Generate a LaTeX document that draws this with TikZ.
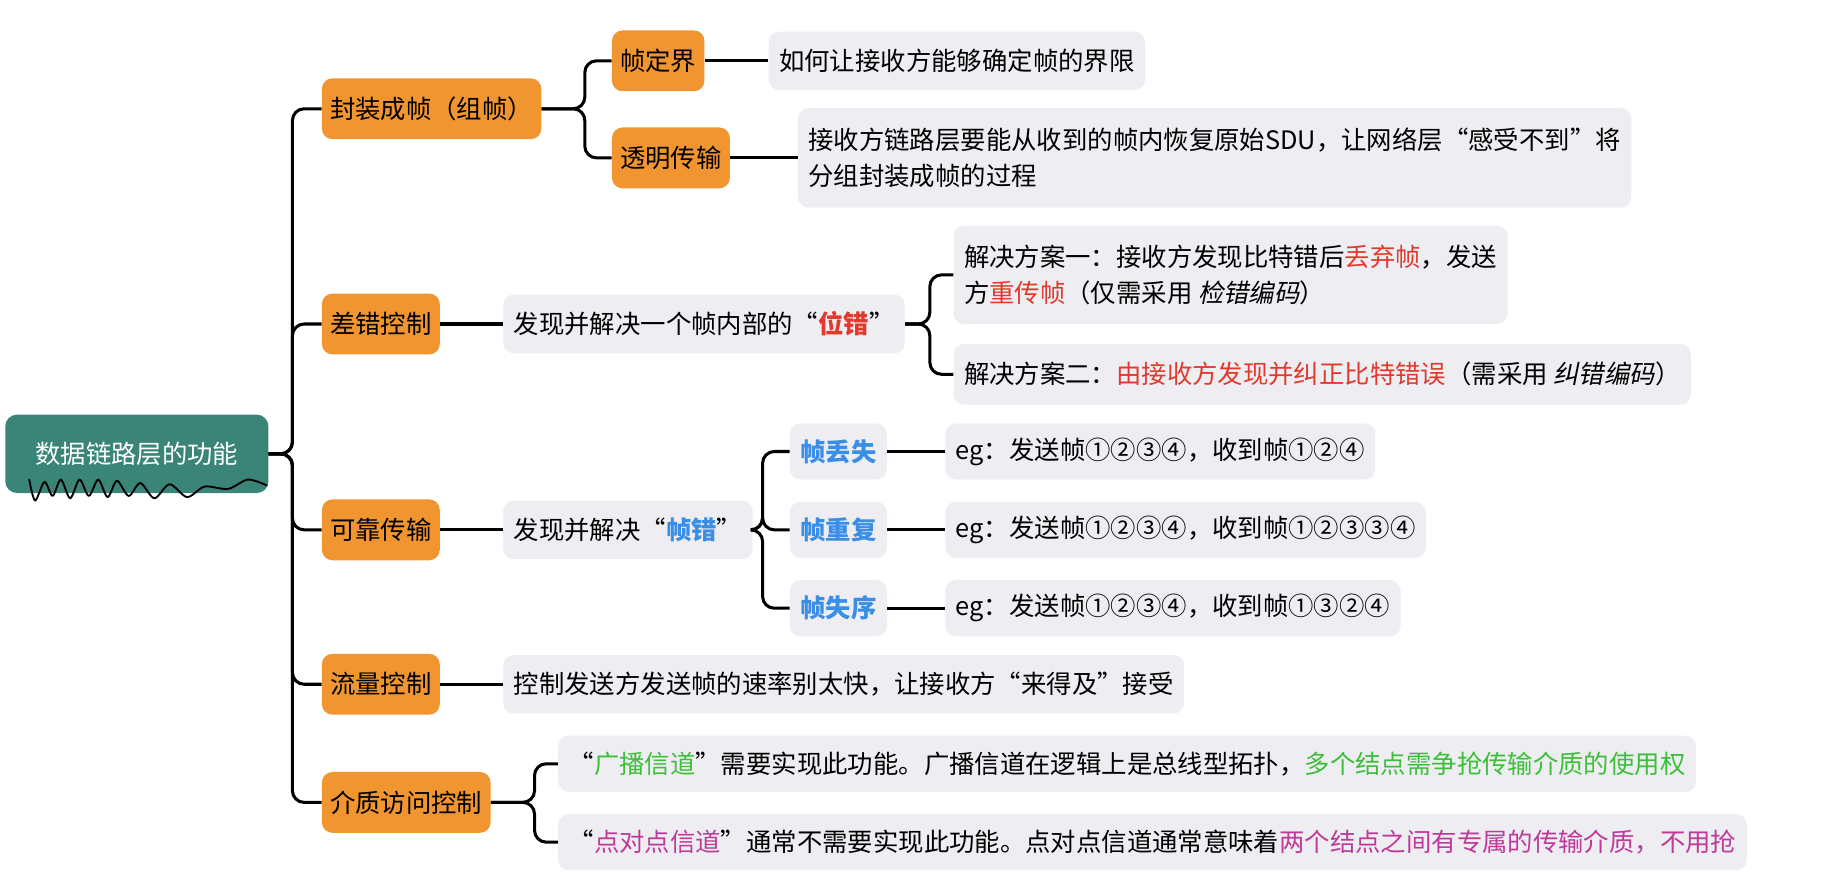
\documentclass[tikz,border=0pt]{standalone}
\usepackage{fontspec}
\setmainfont{Noto Sans CJK SC}
\newfontfamily\cjkit[FakeSlant=0.2]{Noto Sans CJK SC}
\definecolor{org}{HTML}{F0952F}
\definecolor{teal1}{HTML}{3A8577}
\definecolor{gbox}{HTML}{EEEEF2}
\definecolor{blu}{HTML}{3A8EE6}
\definecolor{rd}{HTML}{E03A2E}
\definecolor{grn}{HTML}{3DBF3A}
\definecolor{mag}{HTML}{C0399A}
\begin{document}
\begin{tikzpicture}[x=1pt,y=-1pt,
  every node/.style={font=\fontsize{21.7}{31}\selectfont},
  l1/.style={fill=org,rounded corners=9pt,inner xsep=7pt,inner ysep=0pt,minimum height=52pt,anchor=west},
  gb/.style={fill=gbox,rounded corners=9pt,inner xsep=9pt,inner ysep=0pt,minimum height=50pt,anchor=west,align=left},
  conn/.style={line width=2.6pt,rounded corners=10pt}]
\useasboundingbox (0,0) rectangle (1568,759);
\node[fill=teal1,rounded corners=10pt,minimum width=225pt,minimum height=67pt,text=white] (root) at (117,388) {数据链路层的功能};
\draw[line width=1.6pt,line cap=round,line join=round] plot[smooth] coordinates {(25,410)(30,428)(38,412)(45,424)(52,410)(60,426)(68,410)(76,424)(84,410)(92,425)(100,411)(110,424)(120,413)(132,426)(145,414)(160,425)(175,416)(195,418)(212,410)(228,415)};
\node[l1] (a) at (275,93) {封装成帧（组帧）};
\node[l1] (b) at (275,277) {差错控制};
\node[l1] (c) at (275,453) {可靠传输};
\node[l1] (d) at (275,585) {流量控制};
\node[l1] (e) at (275,686) {介质访问控制};
\foreach \n in {a,b,c,d,e} \draw[conn] (root.east) -- (250,388) |- (\n.west);
\node[l1] (a1) at (523,52) {帧定界};
\node[l1] (a2) at (523,135) {透明传输};
\draw[conn] (a.east) -- (500,93) |- (a1.west);
\draw[conn] (a.east) -- (500,93) |- (a2.west);
\node[gb] (a1t) at (657,52) {如何让接收方能够确定帧的界限};
\node[gb,minimum height=85pt] (a2t) at (682,135) {接收方链路层要能从收到的帧内恢复原始SDU，让网络层“感受不到”将\\分组封装成帧的过程\hspace{200pt}};
\draw[conn] (a1.east) -- (a1t.west);
\draw[conn] (a2.east) -- (a2t.west);
\node[gb] (bt) at (430,277) {发现并解决一个帧内部的“\textcolor{rd}{\bfseries 位错}”};
\draw[conn] (b.east) -- (bt.west);
\node[gb,minimum height=84pt] (b1) at (815,235) {解决方案一：接收方发现比特错后\textcolor{rd}{丢弃帧}，发送\\方\textcolor{rd}{重传帧}（仅需采用 {\cjkit 检错编码}）};
\node[gb,minimum height=52pt] (b2) at (815,320) {解决方案二：\textcolor{rd}{由接收方发现并纠正比特错误}（需采用 {\cjkit 纠错编码}）};
\draw[conn] (bt.east) -- (795,277) |- (b1.west);
\draw[conn] (bt.east) -- (795,277) |- (b2.west);
\node[gb] (ct) at (430,453) {发现并解决“\textcolor{blu}{\bfseries 帧错}”};
\draw[conn] (c.east) -- (ct.west);
\node[gb,minimum height=48pt,text=blu,font=\fontsize{21.7}{31}\selectfont\bfseries] (c1) at (675,386) {帧丢失};
\node[gb,minimum height=48pt,text=blu,font=\fontsize{21.7}{31}\selectfont\bfseries] (c2) at (675,453) {帧重复};
\node[gb,minimum height=48pt,text=blu,font=\fontsize{21.7}{31}\selectfont\bfseries] (c3) at (675,520) {帧失序};
\foreach \n in {c1,c2,c3} \draw[conn] (ct.east) -- (652,453) |- (\n.west);
\node[gb,minimum height=48pt] (c1t) at (808,386) {eg：发送帧①②③④，收到帧①②④};
\node[gb,minimum height=48pt] (c2t) at (808,453) {eg：发送帧①②③④，收到帧①②③③④};
\node[gb,minimum height=48pt] (c3t) at (808,520) {eg：发送帧①②③④，收到帧①③②④};
\draw[conn] (c1.east) -- (c1t.west);
\draw[conn] (c2.east) -- (c2t.west);
\draw[conn] (c3.east) -- (c3t.west);
\node[gb] (dt) at (430,585) {控制发送方发送帧的速率别太快，让接收方“来得及”接受};
\draw[conn] (d.east) -- (dt.west);
\node[gb,minimum height=48pt] (e1) at (477,653) {“\textcolor{grn}{广播信道}”需要实现此功能。广播信道在逻辑上是总线型拓扑，\textcolor{grn}{多个结点需争抢传输介质的使用权}};
\node[gb,minimum height=48pt] (e2) at (477,720) {“\textcolor{mag}{点对点信道}”通常不需要实现此功能。点对点信道通常意味着\textcolor{mag}{两个结点之间有专属的传输介质，不用抢}};
\draw[conn] (e.east) -- (457,686) |- (e1.west);
\draw[conn] (e.east) -- (457,686) |- (e2.west);
\end{tikzpicture}
\end{document}
